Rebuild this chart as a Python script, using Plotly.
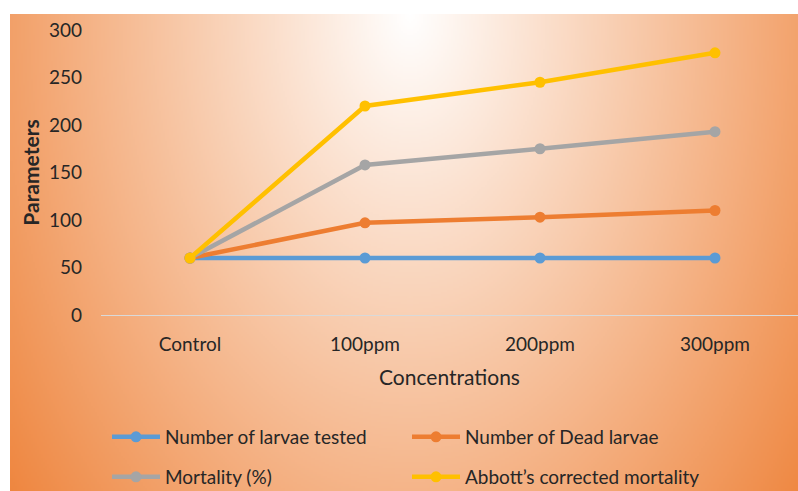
import base64
import struct
import zlib

import numpy as np
import plotly.graph_objects as go

# ---------------- data ----------------
categories = ["Control", "100ppm", "200ppm", "300ppm"]
larvae_tested = [60, 60, 60, 60]
dead_larvae = [60, 97, 103, 110]
mortality = [60, 158, 175, 193]
abbott = [60, 220, 245, 276]

series_names = [
    "Number of larvae tested",
    "Number of Dead larvae",
    "Mortality (%)",
    "Abbott\u2019s corrected mortality",
]
series_colors = ["#5B9BD5", "#ED7D31", "#A5A5A5", "#FFC000"]
y_ticks = [0, 50, 100, 150, 200, 250, 300]

# ---------------- layout geometry (pixels) ----------------
W, H = 798, 491
PL, PR, PT, PB = 101, 798, 30, 315  # plot area
BG_X0, BG_Y0 = 10, 14               # background panel top-left


def png_data_uri(arr):
    h, w, _ = arr.shape
    raw = b"".join(b"\x00" + arr[i].tobytes() for i in range(h))

    def chunk(tag, data):
        c = struct.pack(">I", len(data)) + tag + data
        return c + struct.pack(">I", zlib.crc32(tag + data) & 0xFFFFFFFF)

    png = b"\x89PNG\r\n\x1a\n"
    png += chunk(b"IHDR", struct.pack(">IIBBBBB", w, h, 8, 2, 0, 0, 0))
    png += chunk(b"IDAT", zlib.compress(raw, 9))
    png += chunk(b"IEND", b"")
    return "data:image/png;base64," + base64.b64encode(png).decode()


# radial (elliptical) gradient white -> orange
scale = 2
gw, gh = (W - BG_X0) // scale, (H - BG_Y0) // scale
xs = BG_X0 + (np.arange(gw) + 0.5) * scale
ys = BG_Y0 + (np.arange(gh) + 0.5) * scale
X, Y = np.meshgrid(xs, ys)
t = np.sqrt(((X - 410) / 548.0) ** 2 + ((Y - 14) / 827.0) ** 2)
t = np.clip(t, 0, 1)[..., None]
c0 = np.array([255, 255, 255], dtype=float)
c1 = np.array([237, 125, 49], dtype=float)
img = (c0 + (c1 - c0) * t).round().astype(np.uint8)
bg_uri = png_data_uri(img)

pw, ph = PR - PL, PB - PT

fig = go.Figure()
all_series = [larvae_tested, dead_larvae, mortality, abbott]
for i, (name, vals, col) in enumerate(zip(series_names, all_series, series_colors)):
    fig.add_trace(
        go.Scatter(
            x=categories,
            y=vals,
            name=name,
            mode="lines+markers",
            line=dict(color=col, width=4.5),
            marker=dict(color=col, size=11),
            legend="legend" if i < 2 else "legend2",
            cliponaxis=False,
        )
    )

font_family = "Lato, 'Open Sans', sans-serif"
text_color = "#262626"

legend_common = dict(
    orientation="h",
    xref="container",
    yref="container",
    xanchor="left",
    yanchor="middle",
    bgcolor="rgba(0,0,0,0)",
    font=dict(family=font_family, size=19, color=text_color),
    entrywidth=237,
    entrywidthmode="pixels",
    itemwidth=48,
    tracegroupgap=0,
)

fig.update_layout(
    width=W,
    height=H,
    margin=dict(l=PL, r=W - PR, t=PT, b=H - PB, pad=0),
    paper_bgcolor="white",
    plot_bgcolor="rgba(0,0,0,0)",
    font=dict(family=font_family, color=text_color),
    showlegend=True,
    legend=dict(legend_common, x=107 / W, y=1 - 437 / H),
    legend2=dict(legend_common, x=107 / W, y=1 - 477 / H),
    images=[
        dict(
            source=bg_uri,
            xref="paper",
            yref="paper",
            x=(BG_X0 - PL) / pw,
            y=(PB - BG_Y0) / ph,
            sizex=(W - BG_X0) / pw,
            sizey=(H - BG_Y0) / ph,
            xanchor="left",
            yanchor="top",
            sizing="stretch",
            layer="below",
        )
    ],
    xaxis=dict(
        type="category",
        range=[(PL - 190) / 175.0, (PR - 190) / 175.0],
        showgrid=False,
        showline=True,
        linecolor="#D9D9D9",
        linewidth=1,
        ticks="",
        zeroline=False,
        tickfont=dict(family=font_family, size=19, color=text_color),
        ticklabelstandoff=12,
        title=dict(
            text="Concentrations",
            font=dict(family=font_family, size=21, color=text_color),
            standoff=16,
        ),
    ),
    yaxis=dict(
        range=[0, 300],
        tickvals=y_ticks,
        showgrid=False,
        showline=False,
        zeroline=False,
        ticks="",
        tickfont=dict(family=font_family, size=19, color=text_color),
        ticklabelstandoff=18,
        title=dict(
            text="<b>Parameters</b>",
            font=dict(family=font_family, size=21, color=text_color),
            standoff=3,
        ),
    ),
)

fig.write_html(
    "out.html",
    config={"displayModeBar": False},
    post_script="document.body.style.margin='0';document.body.style.padding='0';document.body.style.overflow='hidden';",
)
